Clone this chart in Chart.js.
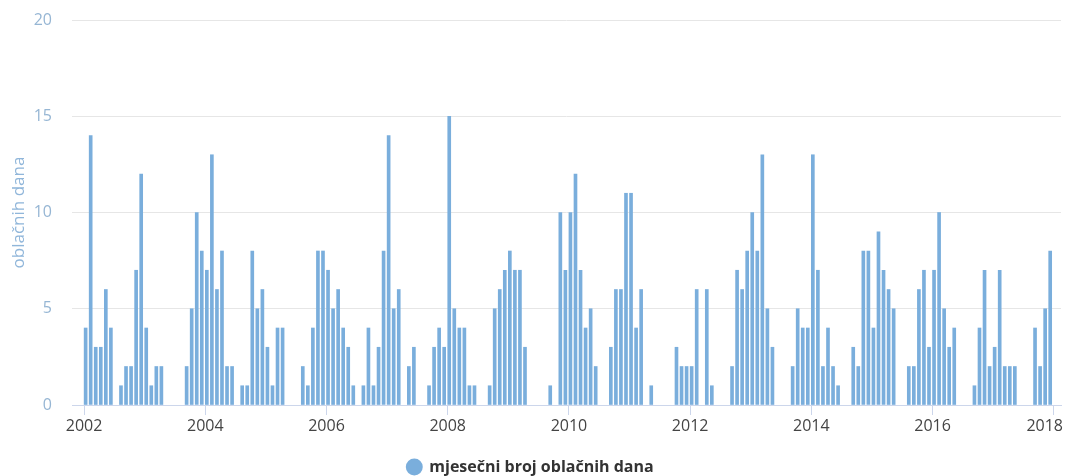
<!DOCTYPE html>
<html>
<head>
<meta charset="utf-8">
<title>Oblačni dani</title>
<script src="https://cdn.jsdelivr.net/npm/chart.js@4.4.1/dist/chart.umd.min.js"></script>
<style>
  html, body { margin: 0; padding: 0; background: #fff; }
  #wrap { width: 1065px; height: 476px; position: relative; }
</style>
</head>
<body>
<div id="wrap"><canvas id="oblacni-chart"></canvas></div>
<script>
var seriesName = 'mjesečni broj oblačnih dana';
var axisTitle = 'oblačnih dana';

var godine = [2002, 2003, 2004, 2005, 2006, 2007, 2008, 2009,
              2010, 2011, 2012, 2013, 2014, 2015, 2016, 2017];

// broj oblačnih dana po mjesecima (sij - pro), null = nema podatka
var d2002 = [4, 14, 3, 3, 6, 4, null, 1, 2, 2, 7, 12];
var d2003 = [4, 1, 2, 2, null, null, null, null, 2, 5, 10, 8];
var d2004 = [7, 13, 6, 8, 2, 2, null, 1, 1, 8, 5, 6];
var d2005 = [3, 1, 4, 4, null, null, null, 2, 1, 4, 8, 8];
var d2006 = [7, 5, 6, 4, 3, 1, null, 1, 4, 1, 3, 8];
var d2007 = [14, 5, 6, null, 2, 3, null, null, 1, 3, 4, 3];
var d2008 = [15, 5, 4, 4, 1, 1, null, null, 1, 5, 6, 7];
var d2009 = [8, 7, 7, 3, null, null, null, null, 1, null, 10, 7];
var d2010 = [10, 12, 7, 4, 5, 2, null, null, 3, 6, 6, 11];
var d2011 = [11, 4, 6, null, 1, null, null, null, null, 3, 2, 2];
var d2012 = [2, 6, null, 6, 1, null, null, null, 2, 7, 6, 8];
var d2013 = [10, 8, 13, 5, 3, null, null, null, 2, 5, 4, 4];
var d2014 = [13, 7, 2, 4, 2, 1, null, null, 3, 2, 8, 8];
var d2015 = [4, 9, 7, 6, 5, null, null, 2, 2, 6, 7, 3];
var d2016 = [7, 10, 5, 3, 4, null, null, null, 1, 4, 7, 2];
var d2017 = [3, 7, 2, 2, 2, null, null, null, 4, 2, 5, 8];

var xTicks = [2002, 2004, 2006, 2008, 2010, 2012, 2014, 2016, 2018];
var yTicks = [0, 5, 10, 15, 20];

var poGodinama = [d2002, d2003, d2004, d2005, d2006, d2007, d2008, d2009,
                  d2010, d2011, d2012, d2013, d2014, d2015, d2016, d2017];

var points = [];
for (var i = 0; i < godine.length; i++) {
    for (var m = 0; m < 12; m++) {
        var v = poGodinama[i][m];
        if (v !== null) {
            points.push({ x: godine[i] + (m + 0.3) / 12, y: v });
        }
    }
}

// zadnja oznaka (2018) se poravna udesno da ne izlazi iz slike
var justifyLastLabel = {
    id: 'justifyLastLabel',
    beforeDraw: function (chart) {
        var items = chart.scales.x.getLabelItems();
        var last = items[items.length - 1];
        if (!last) return;
        last.options.textAlign = 'right';
        last.options.translation[0] = chart.width - 2;
    }
};

Chart.defaults.font.family = "'Open Sans', 'DejaVu Sans', sans-serif";

var ctx = document.getElementById('oblacni-chart');

var myChart = new Chart(ctx, {
    type: 'bar',
    data: {
        datasets: [{
            label: seriesName,
            data: points,
            backgroundColor: '#7aaedc',
            borderWidth: 0,
            barThickness: 3
        }]
    },
    options: {
        responsive: true,
        maintainAspectRatio: false,
        animation: false,
        layout: { padding: { top: 20, right: 4, left: 0, bottom: -9 } },
        scales: {
            x: {
                type: 'linear',
                min: 2001.8,
                max: 2018.12,
                offset: false,
                afterBuildTicks: function (scale) {
                    scale.ticks = xTicks.map(function (t) { return { value: t }; });
                },
                afterFit: function (scale) {
                    scale.height = 51;
                    scale.paddingLeft = 0;
                    scale.paddingRight = 0;
                },
                grid: { offset: false, drawOnChartArea: false, drawTicks: true, tickLength: 10, color: '#ccd6eb' },
                border: { display: true, color: '#ccd6eb' },
                ticks: {
                    color: '#444444',
                    font: { size: 16 },
                    padding: 2,
                    maxRotation: 0,
                    autoSkip: false,
                    callback: function (value) { return String(value); }
                }
            },
            y: {
                min: 0,
                max: 20,
                afterBuildTicks: function (scale) {
                    scale.ticks = yTicks.map(function (t) { return { value: t }; });
                },
                afterFit: function (scale) {
                    scale.width = 72;
                    scale.paddingTop = 0;
                    scale.paddingBottom = 0;
                },
                grid: { color: '#e6e6e6', drawTicks: false },
                border: { display: false },
                ticks: { color: '#96b6d4', font: { size: 16 }, padding: 20 },
                title: {
                    display: true,
                    text: axisTitle,
                    color: '#90b6da',
                    font: { size: 17 },
                    padding: { top: 9, bottom: 0 }
                }
            }
        },
        plugins: {
            legend: {
                position: 'bottom',
                labels: {
                    usePointStyle: true,
                    pointStyle: 'circle',
                    boxWidth: 14,
                    boxHeight: 12,
                    padding: 3,
                    color: '#333333',
                    font: { size: 16, weight: 'bold' }
                }
            },
            tooltip: { enabled: false }
        }
    },
    plugins: [justifyLastLabel]
});
</script>
</body>
</html>
